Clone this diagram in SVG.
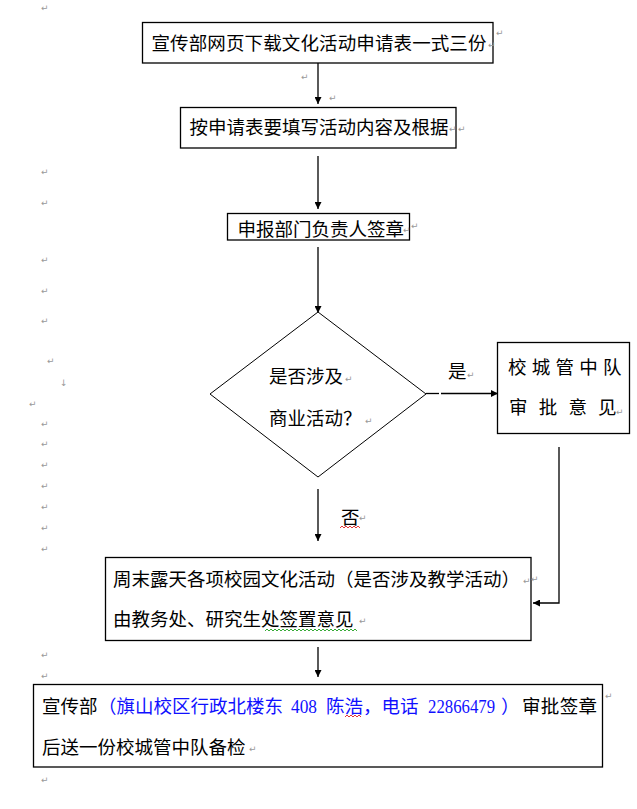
<svg xmlns="http://www.w3.org/2000/svg" width="637" height="809" viewBox="0 0 637 809">
<defs>
<marker id="ah" viewBox="0 0 10 10" refX="10" refY="5" markerWidth="8" markerHeight="7" markerUnits="userSpaceOnUse" orient="auto">
<path d="M0,0 L10,5 L0,10 Z" fill="#000"/>
</marker>
<style>
.box{fill:#fff;stroke:#000;stroke-width:1.3}
.t{font-family:"Noto Sans CJK SC","Liberation Sans",sans-serif;font-size:18.5px;fill:#000}
.d{font-family:"Liberation Serif",serif}
.blue{fill:#1010ff}
.pm{font-family:"DejaVu Sans",sans-serif;font-size:9px;fill:#999}
.ln{stroke:#000;stroke-width:1.3;fill:none}
.sq{fill:none;stroke-width:0.9}
</style>
</defs>
<rect width="637" height="809" fill="#fff"/>

<g id="connectors">
<line class="ln" x1="318" y1="63" x2="318" y2="104" marker-end="url(#ah)"/>
<line class="ln" x1="318" y1="156" x2="318" y2="209" marker-end="url(#ah)"/>
<line class="ln" x1="318" y1="247" x2="318" y2="313" marker-end="url(#ah)"/>
<line class="ln" x1="426" y1="393.5" x2="439" y2="393.5"/>
<line class="ln" x1="441" y1="393.5" x2="498" y2="393.5" marker-end="url(#ah)"/>
<line class="ln" x1="318" y1="489" x2="318" y2="541" marker-end="url(#ah)"/>
<polyline class="ln" points="559,447 559,603 533,603" marker-end="url(#ah)"/>
<line class="ln" x1="318" y1="647" x2="318" y2="677" marker-end="url(#ah)"/>
</g>

<g id="n1">
<rect class="box" x="142.5" y="22.5" width="350.5" height="40.5"/>
<text class="t" x="151.5" y="50" textLength="335" lengthAdjust="spacing">宣传部网页下载文化活动申请表一式三份</text>
</g>

<g id="n2">
<rect class="box" x="180.5" y="107.5" width="275.5" height="40.5"/>
<text class="t" x="189.5" y="134">按申请表要填写活动内容及根据</text>
</g>

<g id="n3">
<rect class="box" x="227.5" y="213.5" width="182" height="26.5"/>
<text class="t" x="237.5" y="236">申报部门负责人签章</text>
</g>

<g id="n4">
<polygon points="318,312 426,394 318,477 210,394" fill="#fff" stroke="#000" stroke-width="1"/>
<text class="t" x="269" y="383">是否涉及</text>
<text class="t" x="269" y="425">商业活动？</text>
</g>

<g id="n5">
<rect class="box" x="497.5" y="342.5" width="132" height="91"/>
<text class="t" y="374"><tspan x="508">校</tspan><tspan x="531.7">城</tspan><tspan x="555.5">管</tspan><tspan x="579.2">中</tspan><tspan x="603">队</tspan></text>
<text class="t" y="414"><tspan x="509">审</tspan><tspan x="538.7">批</tspan><tspan x="568.4">意</tspan><tspan x="598">见</tspan></text>
</g>

<g id="n6">
<rect class="box" x="105.5" y="557.5" width="425.5" height="83"/>
<text class="t" x="113" y="586">周末露天各项校园文化活动（是否涉及教学活动）</text>
<text class="t" x="113" y="626">由教务处、研究生处签置意见</text>
</g>

<g id="n7">
<rect class="box" x="33.5" y="684.5" width="569" height="82.5"/>
<text class="t" y="713"><tspan x="42">宣传部</tspan><tspan class="blue" x="98">（旗山校区行政北楼东</tspan><tspan class="blue d" x="291" textLength="26" lengthAdjust="spacingAndGlyphs">408</tspan><tspan class="blue" x="326">陈浩，电话</tspan><tspan class="blue d" x="428" textLength="67" lengthAdjust="spacingAndGlyphs">22866479</tspan><tspan class="blue" x="501">）</tspan><tspan x="522" textLength="75" lengthAdjust="spacing">审批签章</tspan></text>
<text class="t" x="42" y="754">后送一份校城管中队备检</text>
</g>

<g id="labels">
<text class="t" x="448" y="378">是</text>
<text class="t" x="341" y="524">否</text>
</g>

<g id="squiggles">
<path class="sq" stroke="#e02020" d="M340,528 l2,-2 l2,2 l2,-2 l2,2 l2,-2 l2,2 l2,-2 l2,2 l2,-2 l2,2"/>
<path class="sq" stroke="#e02020" d="M345,717 l2,-2 l2,2 l2,-2 l2,2 l2,-2 l2,2 l2,-2 l2,2"/>
<path class="sq" stroke="#20a020" d="M265,631 l2,-2 l2,2 l2,-2 l2,2 l2,-2 l2,2 l2,-2 l2,2 l2,-2 l2,2 l2,-2 l2,2 l2,-2 l2,2 l2,-2 l2,2 l2,-2 l2,2 l2,-2 l2,2 l2,-2 l2,2 l2,-2 l2,2 l2,-2 l2,2 l2,-2 l2,2 l2,-2 l2,2 l2,-2 l2,2 l2,-2 l2,2 l2,-2 l2,2 l2,-2 l2,2 l2,-2 l2,2 l2,-2 l2,2 l2,-2 l2,2 l2,-2 l2,2"/>
</g>

<g id="marks">
<text class="pm" x="41" y="11">↵</text>
<text class="pm" x="301" y="80">↵</text>
<text class="pm" x="329" y="101">↵</text>
<text class="pm" x="496" y="36">↵</text>
<text class="pm" x="488" y="48">↵</text>
<text class="pm" x="449" y="132">↵</text>
<text class="pm" x="458" y="132">↵</text>
<text class="pm" x="403" y="233">↵</text>
<text class="pm" x="411" y="229">↵</text>
<text class="pm" x="41" y="175">↵</text>
<text class="pm" x="41" y="206">↵</text>
<text class="pm" x="41" y="263">↵</text>
<text class="pm" x="41" y="294">↵</text>
<text class="pm" x="41" y="324">↵</text>
<text class="pm" x="47" y="364">↵</text>
<text class="pm" x="60" y="386">↓</text>
<text class="pm" x="29" y="407">↵</text>
<text class="pm" x="41" y="427">↵</text>
<text class="pm" x="41" y="447">↵</text>
<text class="pm" x="41" y="468">↵</text>
<text class="pm" x="41" y="489">↵</text>
<text class="pm" x="41" y="510">↵</text>
<text class="pm" x="41" y="531">↵</text>
<text class="pm" x="41" y="552">↵</text>
<text class="pm" x="345" y="382">↵</text>
<text class="pm" x="365" y="424">↵</text>
<text class="pm" x="467" y="378">↵</text>
<text class="pm" x="616" y="415">↵</text>
<text class="pm" x="359" y="521">↵</text>
<text class="pm" x="523" y="584">↵</text>
<text class="pm" x="531" y="582">↵</text>
<text class="pm" x="359" y="624">↵</text>
<text class="pm" x="41" y="658">↵</text>
<text class="pm" x="41" y="679">↵</text>
<text class="pm" x="605" y="699">↵</text>
<text class="pm" x="249" y="752">↵</text>
<text class="pm" x="41" y="783">↵</text>
</g>
</svg>
